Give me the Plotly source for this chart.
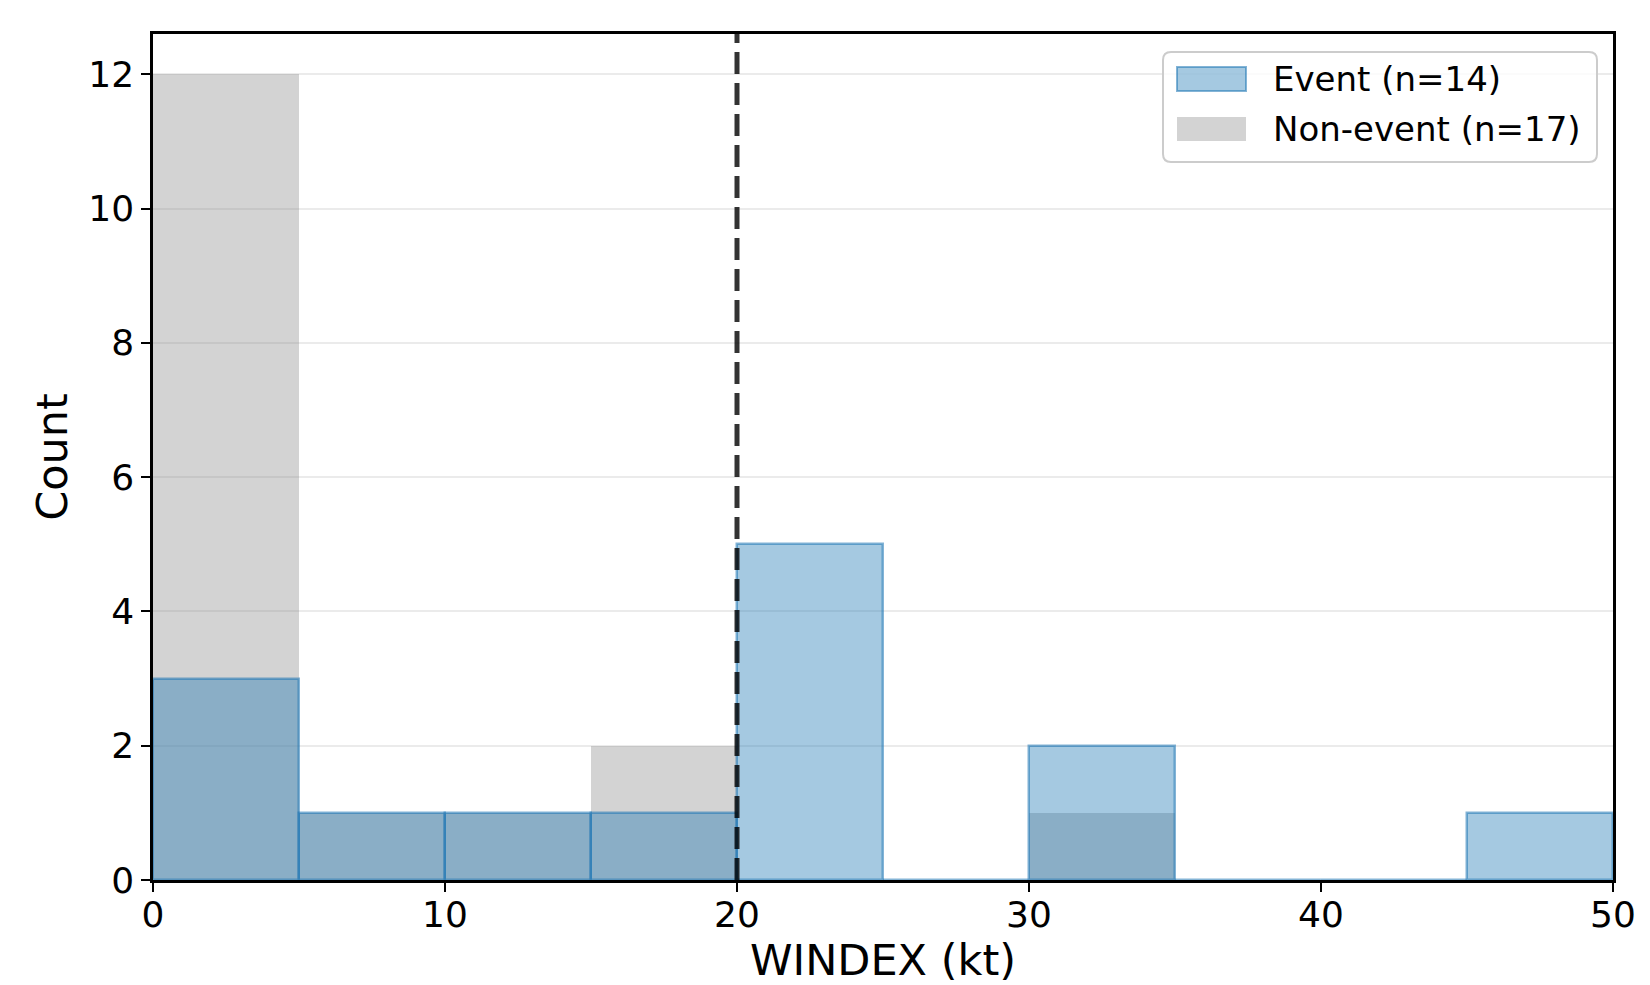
import plotly.graph_objects as go

# ---- data ----
bin_edges = [0, 5, 10, 15, 20, 25, 30, 35, 40, 45, 50]
event_counts = [3, 1, 1, 1, 5, 0, 2, 0, 0, 1]
nonevent_counts = [12, 1, 1, 2, 0, 0, 1, 0, 0, 0]
threshold = 20
x_ticks = [0, 10, 20, 30, 40, 50]
y_ticks = [0, 2, 4, 6, 8, 10, 12]
event_label = f"Event (n={sum(event_counts)})"
nonevent_label = f"Non-event (n={sum(nonevent_counts)})"

centers = [(a + b) / 2 for a, b in zip(bin_edges[:-1], bin_edges[1:])]
widths = [b - a for a, b in zip(bin_edges[:-1], bin_edges[1:])]

W, H = 1650, 985
L, R, T, B = 153, 1613, 34, 880

BLUE_FILL = "rgba(31,119,180,0.4)"
BLUE_EDGE = "rgba(31,119,180,0.55)"
GRAY_FILL = "rgba(128,128,128,0.35)"
FONT = "DejaVu Sans"

fig = go.Figure()
fig.add_trace(go.Bar(x=centers, y=nonevent_counts, width=widths, name=nonevent_label,
                     marker=dict(color=GRAY_FILL, line=dict(width=0)), showlegend=False))
fig.add_trace(go.Bar(x=centers, y=event_counts, width=widths, name=event_label,
                     marker=dict(color=BLUE_FILL, line=dict(color=BLUE_EDGE, width=2.5)),
                     showlegend=False))

fig.add_shape(type="line", x0=threshold, x1=threshold, xref="x", y0=0, y1=1, yref="paper",
              line=dict(color="rgba(0,0,0,0.8)", width=5, dash="22px,9px"), layer="above")

def px(xp):
    return (xp - L) / (R - L)

def py(yp):
    return 1 - (yp - T) / (B - T)

# custom legend (matplotlib style) with rounded frame
bx0, bx1, by0, by1, rad = 1163, 1597, 52, 162, 8
path = (f"M {px(bx0 + rad)},{py(by0)} L {px(bx1 - rad)},{py(by0)} "
        f"Q {px(bx1)},{py(by0)} {px(bx1)},{py(by0 + rad)} "
        f"L {px(bx1)},{py(by1 - rad)} Q {px(bx1)},{py(by1)} {px(bx1 - rad)},{py(by1)} "
        f"L {px(bx0 + rad)},{py(by1)} Q {px(bx0)},{py(by1)} {px(bx0)},{py(by1 - rad)} "
        f"L {px(bx0)},{py(by0 + rad)} Q {px(bx0)},{py(by0)} {px(bx0 + rad)},{py(by0)} Z")
fig.add_shape(type="path", path=path, xref="paper", yref="paper",
              line=dict(color="#cccccc", width=2), fillcolor="rgba(255,255,255,0.8)", layer="above")
rows = [(event_label, BLUE_FILL, BLUE_EDGE, 79), (nonevent_label, GRAY_FILL, None, 129)]
for label, fill, edge, yc in rows:
    fig.add_shape(type="rect", xref="paper", yref="paper",
                  x0=px(1177), x1=px(1246), y0=py(yc + 12), y1=py(yc - 12),
                  fillcolor=fill, line=dict(color=edge or "rgba(0,0,0,0)", width=2 if edge else 0),
                  layer="above")
    fig.add_annotation(xref="paper", yref="paper", x=px(1271), y=py(yc), text=label,
                       showarrow=False, xanchor="left", yanchor="middle",
                       font=dict(family=FONT, size=34, color="black"))

fig.update_layout(
    width=W, height=H,
    margin=dict(l=L, r=W - R, t=T, b=H - B, autoexpand=False),
    barmode="overlay", bargap=0,
    plot_bgcolor="white", paper_bgcolor="white",
    font=dict(family=FONT, color="black"),
    showlegend=False,
)
fig.update_xaxes(range=[0, 50], tickvals=x_ticks, ticks="outside", ticklen=9, tickwidth=2,
                 tickcolor="black", showline=True, linecolor="black", linewidth=2.5, mirror=True,
                 showgrid=False, zeroline=False, tickfont=dict(size=36, family=FONT),
                 automargin=False, ticklabelstandoff=-8,
                 title=dict(text="WINDEX (kt)", font=dict(size=43, family=FONT), standoff=0))
fig.update_yaxes(range=[0, 12.6], tickvals=y_ticks, ticks="outside", ticklen=9, tickwidth=2,
                 tickcolor="black", showline=True, linecolor="black", linewidth=2.5, mirror=True,
                 showgrid=True, gridcolor="#ebebeb", gridwidth=2, zeroline=False,
                 tickfont=dict(size=36, family=FONT), automargin=False,
                 title=dict(text="Count", font=dict(size=43, family=FONT), standoff=8))

fig.write_html("out.html")
